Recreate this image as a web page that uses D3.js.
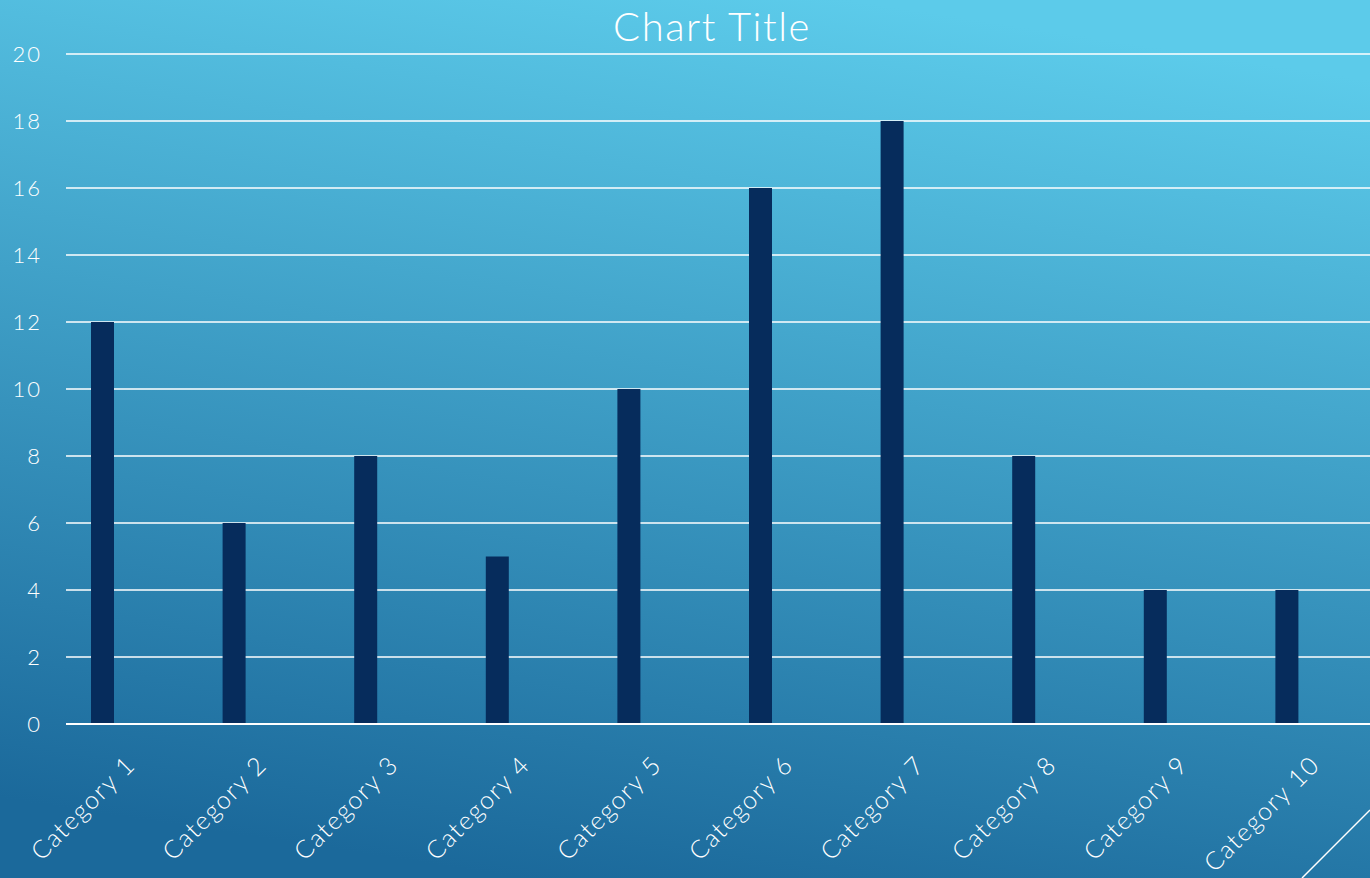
<!DOCTYPE html>
<html>
<head>
<meta charset="utf-8">
<script src="https://cdn.jsdelivr.net/npm/d3@7/dist/d3.min.js"></script>
<style>
  html, body { margin: 0; padding: 0; overflow: hidden; }
  svg { display: block; }
  text { font-family: "Lato", "Open Sans", "DejaVu Sans", sans-serif; font-weight: 300; fill: #ffffff; }
</style>
</head>
<body>
<svg id="chart" width="1370" height="878"></svg>
<script>
// Chart data
const categories = ["Category 1", "Category 2", "Category 3", "Category 4", "Category 5",
                    "Category 6", "Category 7", "Category 8", "Category 9", "Category 10"];
const values = [12, 6, 8, 5, 10, 16, 18, 8, 4, 4];
const yTicks = [0, 2, 4, 6, 8, 10, 12, 14, 16, 18, 20];
const chartTitle = "Chart Title";

const W = 1370, H = 878;
const plotLeft = 66, plotTop = 54, plotBottom = 724;
const step = 131.6;

const svg = d3.select("#chart");

// Background gradient
const defs = svg.append("defs");
const grad = defs.append("linearGradient")
  .attr("id", "bg").attr("x1", "0.62").attr("y1", "0").attr("x2", "0.38").attr("y2", "1");
grad.append("stop").attr("offset", "0").attr("stop-color", "#5ccbea");
grad.append("stop").attr("offset", "1").attr("stop-color", "#1b699b");
svg.append("rect").attr("width", W).attr("height", H).attr("fill", "url(#bg)");

// Scales
const x = d3.scaleBand().domain(categories)
  .range([plotLeft, plotLeft + step * categories.length]).padding(0);
const y = d3.scaleLinear().domain([0, 20]).range([plotBottom, plotTop]);

// Gridlines
svg.append("g").selectAll("line").data(yTicks).join("line")
  .attr("x1", plotLeft).attr("x2", W)
  .attr("y1", d => y(d)).attr("y2", d => y(d))
  .attr("stroke", "#ffffff").attr("stroke-width", 1.5);

// Y axis labels
const yAxis = d3.axisLeft(y).tickValues(yTicks).tickSize(0).tickPadding(0);
const yg = svg.append("g").attr("transform", `translate(42,0)`).call(yAxis);
yg.select(".domain").remove();
yg.attr("font-family", null);
yg.selectAll("text").attr("font-size", 22).attr("fill", "#ffffff")
  .attr("letter-spacing", 2).attr("dy", "0.35em");

// Bars
const barW = 23, barOffset = 25;
svg.append("g").selectAll("rect").data(values).join("rect")
  .attr("x", (d, i) => x(categories[i]) + barOffset)
  .attr("width", barW)
  .attr("y", d => y(d))
  .attr("height", d => y(0) - y(d))
  .attr("fill", "#062c5c");

// Baseline drawn over the bars
svg.append("line")
  .attr("x1", plotLeft).attr("x2", W)
  .attr("y1", y(0)).attr("y2", y(0))
  .attr("stroke", "#ffffff").attr("stroke-width", 2);

// Category labels, rotated
const xAxis = d3.axisBottom(x).tickSize(0).tickPadding(0);
const xg = svg.append("g").attr("transform", `translate(0,${plotBottom})`).call(xAxis);
xg.select(".domain").remove();
xg.attr("font-family", null);
xg.selectAll(".tick").attr("transform", d => `translate(${x(d) + barOffset + barW / 2 + 22},30)`);
xg.selectAll("text")
  .attr("font-size", 25).attr("fill", "#ffffff").attr("letter-spacing", 1.6)
  .attr("text-anchor", "end").attr("dy", "0.7em").attr("y", 0)
  .attr("transform", "rotate(-45)");

// Title
svg.append("text").attr("x", 712).attr("y", 41)
  .attr("text-anchor", "middle").attr("font-size", 40).attr("letter-spacing", 1.5)
  .text(chartTitle);

// Decorative corner stroke
svg.append("line")
  .attr("x1", 1302).attr("y1", H).attr("x2", W).attr("y2", 810)
  .attr("stroke", "#ffffff").attr("stroke-width", 1.5);
</script>
</body>
</html>
